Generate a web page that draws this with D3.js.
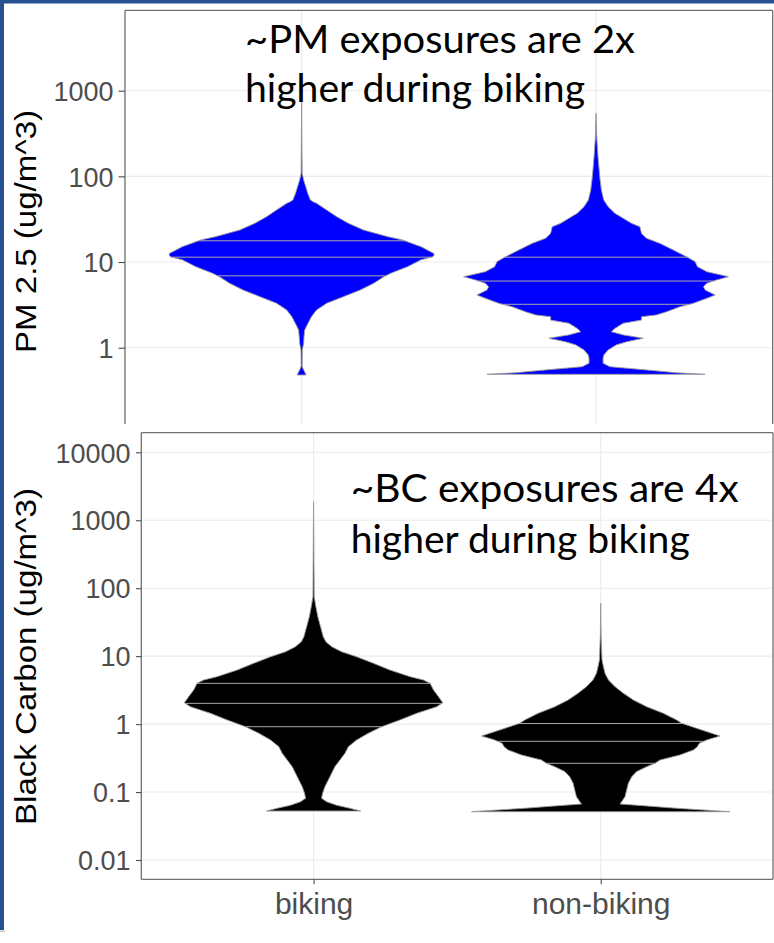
<!DOCTYPE html>
<html>
<head>
<meta charset="utf-8">
<script src="https://cdn.jsdelivr.net/npm/d3@7"></script>
<style>
  html, body { margin: 0; padding: 0; background: #ffffff; }
  svg { display: block; }
</style>
</head>
<body>
<script>
// ---- data ---------------------------------------------------------------
const categories = ["biking", "non-biking"];
const pmTicks = [1, 10, 100, 1000];
const bcTicks = [0.01, 0.1, 1, 10, 100, 1000, 10000];

// violin density profiles: [concentration (ug/m^3), relative half-width], high -> low
const pmBiking = [
  [780, 0], [108.6, 0.004], [90.7, 0.015], [75.7, 0.031], [63.4, 0.046], [53, 0.066],
  [50.6, 0.086], [48.5, 0.112], [40.5, 0.189], [33.8, 0.265], [28.3, 0.353], [23.6, 0.468],
  [19.8, 0.647], [18.1, 0.761], [15.1, 0.901], [12.6, 0.998], [12.1, 1], [11.5, 0.99],
  [10.6, 0.901], [8.82, 0.799], [7.38, 0.672], [6.74, 0.621], [5.65, 0.544], [4.72, 0.443],
  [3.94, 0.315], [3.30, 0.189], [2.75, 0.112], [2.30, 0.074], [1.93, 0.048], [1.61, 0.023],
  [1.34, 0.018], [1.12, 0.015], [1.03, 0.010], [0.94, 0.005], [0.61, 0.004], [0.58, 0.008],
  [0.52, 0.023], [0.48, 0.034]
];
const pmNonBiking = [
  [545, 0], [290, 0.005], [169.6, 0.015], [99, 0.028], [69.3, 0.040], [53, 0.058],
  [44.2, 0.091], [37, 0.142], [32.4, 0.205], [28.3, 0.267], [25.8, 0.331], [21.6, 0.343],
  [18.9, 0.381], [16.5, 0.483], [13.8, 0.583], [11.5, 0.684], [10.1, 0.748], [8.82, 0.765],
  [7.71, 0.836], [6.74, 1], [6.17, 0.909], [5.65, 0.836], [5.15, 0.811], [4.72, 0.823],
  [4.12, 0.899], [3.77, 0.836], [3.30, 0.735], [3.01, 0.634], [2.63, 0.533], [2.41, 0.455],
  [2.30, 0.343], [2.10, 0.343], [1.93, 0.205], [1.68, 0.142], [1.54, 0.116], [1.41, 0.205],
  [1.29, 0.356], [1.17, 0.230], [1.08, 0.154], [0.94, 0.091], [0.82, 0.058], [0.75, 0.053],
  [0.66, 0.053], [0.60, 0.104], [0.55, 0.381], [0.51, 0.608], [0.489, 0.823]
];
const bcBiking = [
  [1875, 0], [75, 0.005], [53.4, 0.018], [38.1, 0.033], [27.1, 0.054], [19.3, 0.075],
  [16.3, 0.095], [13.8, 0.140], [11.6, 0.217], [9.8, 0.333], [7.85, 0.463], [6.25, 0.591],
  [4.99, 0.747], [4.46, 0.850], [3.98, 0.902], [3.18, 0.928], [2.53, 0.967], [2.06, 1],
  [1.80, 0.953], [1.44, 0.798], [1.15, 0.669], [0.916, 0.527], [0.733, 0.424], [0.583, 0.333],
  [0.465, 0.269], [0.372, 0.243], [0.296, 0.204], [0.236, 0.165], [0.189, 0.140], [0.150, 0.114],
  [0.120, 0.088], [0.096, 0.070], [0.081, 0.062], [0.072, 0.101], [0.064, 0.178], [0.0577, 0.281],
  [0.0526, 0.364]
];
const bcNonBiking = [
  [60, 0], [20, 0.003], [8.78, 0.010], [7.0, 0.021], [5.6, 0.033], [4.46, 0.060],
  [3.55, 0.111], [2.84, 0.176], [2.26, 0.253], [1.80, 0.356], [1.44, 0.485], [1.15, 0.588],
  [1.03, 0.626], [0.867, 0.742], [0.668, 0.923], [0.583, 0.820], [0.521, 0.763], [0.465, 0.748],
  [0.416, 0.717], [0.351, 0.613], [0.296, 0.459], [0.265, 0.420], [0.236, 0.356], [0.200, 0.278],
  [0.168, 0.240], [0.135, 0.214], [0.107, 0.201], [0.0855, 0.188], [0.0721, 0.162], [0.0667, 0.149],
  [0.0624, 0.356], [0.0577, 0.588], [0.0545, 0.794], [0.0514, 1]
];

// 25th / 50th / 75th percentiles drawn across each violin
const pmBikingQuartiles = [6.9, 11.4, 17.7];
const pmNonBikingQuartiles = [3.21, 6.0, 11.4];
const bcBikingQuartiles = [0.916, 2.02, 3.98];
const bcNonBikingQuartiles = [0.265, 0.558, 1.02];

// ---- drawing ------------------------------------------------------------
const W = 774, H = 943;
const svg = d3.select("body").append("svg")
  .attr("width", W).attr("height", H)
  .attr("viewBox", `0 0 ${W} ${H}`);

svg.append("rect").attr("width", W).attr("height", H).attr("fill", "#ffffff");

// slide frame
const frame = "#26508f";
svg.append("rect").attr("x", 0).attr("y", 0).attr("width", W).attr("height", 3.5).attr("fill", frame);
svg.append("rect").attr("x", 0).attr("y", 0).attr("width", 4).attr("height", 930).attr("fill", frame);
svg.append("rect").attr("x", 0).attr("y", 930.5).attr("width", 5).attr("height", 1.5).attr("fill", "#c8c8c8");

const axisFont = "'Liberation Sans', Arial, Helvetica, sans-serif";

function halfWidthAt(profile, v) {
  const lv = Math.log10(v);
  for (let i = 0; i < profile.length - 1; i++) {
    const a = Math.log10(profile[i][0]), b = Math.log10(profile[i + 1][0]);
    if (lv <= a && lv >= b) {
      const t = (lv - a) / (b - a);
      return profile[i][1] + t * (profile[i + 1][1] - profile[i][1]);
    }
  }
  return 0;
}

function drawPanel(cfg) {
  const g = svg.append("g");
  const x = d3.scalePoint().domain(categories).range([cfg.x0, cfg.x1]).padding(0.6);
  const y = d3.scaleLog().domain(cfg.yDomain).range(cfg.yRange);
  const half = 0.45 * x.step();

  const clipId = "clip-" + cfg.id;
  g.append("clipPath").attr("id", clipId)
    .append("rect").attr("x", cfg.x0).attr("y", cfg.y0)
    .attr("width", cfg.x1 - cfg.x0).attr("height", cfg.y1 - cfg.y0);

  const plot = g.append("g").attr("clip-path", `url(#${clipId})`);

  // grid
  plot.selectAll("line.hgrid").data(cfg.ticks).join("line")
    .attr("x1", cfg.x0).attr("x2", cfg.x1)
    .attr("y1", d => y(d)).attr("y2", d => y(d))
    .attr("stroke", "#ebebeb").attr("stroke-width", 1.1);
  plot.selectAll("line.vgrid").data(categories).join("line")
    .attr("x1", d => x(d)).attr("x2", d => x(d))
    .attr("y1", cfg.y0).attr("y2", cfg.y1)
    .attr("stroke", "#ebebeb").attr("stroke-width", 1.1);

  // violins
  categories.forEach((c, i) => {
    const prof = cfg.profiles[i];
    const cx = x(c);
    const area = d3.area()
      .y(d => y(d[0]))
      .x0(d => cx - d[1] * half)
      .x1(d => cx + d[1] * half);
    plot.append("path").attr("d", area(prof))
      .attr("fill", cfg.fill)
      .attr("stroke", "#9a9a9a").attr("stroke-width", 0.9)
      .attr("stroke-linejoin", "round");
    cfg.quartiles[i].forEach(q => {
      const w = halfWidthAt(prof, q) * half;
      plot.append("line")
        .attr("x1", cx - w).attr("x2", cx + w)
        .attr("y1", y(q)).attr("y2", y(q))
        .attr("stroke", "#a8a8a8").attr("stroke-width", 1);
    });
  });

  // panel border
  const border = "#6e6e6e";
  const bw = 1.3;
  g.append("line").attr("x1", cfg.x0).attr("x2", cfg.x1).attr("y1", cfg.y0).attr("y2", cfg.y0)
    .attr("stroke", border).attr("stroke-width", bw);
  g.append("line").attr("x1", cfg.x0).attr("x2", cfg.x0).attr("y1", cfg.y0).attr("y2", cfg.y1)
    .attr("stroke", border).attr("stroke-width", bw);
  g.append("line").attr("x1", cfg.x1).attr("x2", cfg.x1).attr("y1", cfg.y0).attr("y2", cfg.y1)
    .attr("stroke", border).attr("stroke-width", bw);
  if (cfg.bottomBorder) {
    g.append("line").attr("x1", cfg.x0).attr("x2", cfg.x1).attr("y1", cfg.y1).attr("y2", cfg.y1)
      .attr("stroke", border).attr("stroke-width", bw);
  }

  // y axis
  const yAxis = d3.axisLeft(y).tickValues(cfg.ticks).tickFormat(d3.format("~g"))
    .tickSize(cfg.tickLen).tickPadding(cfg.tickPad);
  const ya = g.append("g").attr("transform", `translate(${cfg.x0},0)`).call(yAxis);
  ya.select(".domain").remove();
  ya.selectAll(".tick line").attr("stroke", "#4d4d4d").attr("stroke-width", 1.1);
  ya.selectAll(".tick text")
    .attr("font-family", axisFont).attr("font-size", cfg.labelSize)
    .attr("fill", "#4d4d4d").attr("dy", "0.36em");

  // x axis
  if (cfg.showX) {
    const xAxis = d3.axisBottom(x).tickSize(5).tickPadding(8);
    const xa = g.append("g").attr("transform", `translate(0,${cfg.y1})`).call(xAxis);
    xa.select(".domain").remove();
    xa.selectAll(".tick line").attr("stroke", "#4d4d4d").attr("stroke-width", 1.1);
    xa.selectAll(".tick text")
      .attr("font-family", axisFont).attr("font-size", 30)
      .attr("fill", "#4d4d4d").attr("dy", "0.71em");
  }

  // y title
  g.append("text")
    .attr("transform", `translate(36,${cfg.titleY}) rotate(-90)`)
    .attr("text-anchor", "middle")
    .attr("font-family", axisFont).attr("font-size", 30)
    .attr("textLength", cfg.titleLen).attr("lengthAdjust", "spacingAndGlyphs")
    .attr("fill", "#000000")
    .text(cfg.title);

  // note
  const noteFont = "Lato, 'Gill Sans', 'Open Sans', sans-serif";
  cfg.note.forEach((line, k) => {
    g.append("text")
      .attr("x", cfg.noteX).attr("y", cfg.noteY[k])
      .attr("font-family", noteFont).attr("font-size", 38)
      .attr("textLength", cfg.noteLen[k]).attr("lengthAdjust", "spacingAndGlyphs")
      .attr("fill", "#000000")
      .text(line);
  });
}

drawPanel({
  id: "pm", x0: 125, x1: 772.7, y0: 10.3, y1: 424, bottomBorder: false,
  yDomain: [1, 1000], yRange: [347.7, 90.7], ticks: pmTicks,
  tickLen: 6.5, tickPad: 5, labelSize: 27,
  fill: "#0000ff", profiles: [pmBiking, pmNonBiking],
  quartiles: [pmBikingQuartiles, pmNonBikingQuartiles],
  title: "PM 2.5 (ug/m^3)", titleY: 231.4, titleLen: 243, showX: false,
  note: ["~PM exposures are 2x", "higher during biking"],
  noteX: 245, noteY: [52.8, 102], noteLen: [390, 340]
});

drawPanel({
  id: "bc", x0: 141.3, x1: 773, y0: 432.7, y1: 879.3, bottomBorder: true,
  yDomain: [0.01, 10000], yRange: [860, 452.3], ticks: bcTicks,
  tickLen: 5.3, tickPad: 5.5, labelSize: 27,
  fill: "#000000", profiles: [bcBiking, bcNonBiking],
  quartiles: [bcBikingQuartiles, bcNonBikingQuartiles],
  title: "Black Carbon (ug/m^3)", titleY: 656.5, titleLen: 337, showX: true,
  note: ["~BC exposures are 4x", "higher during biking"],
  noteX: 350.7, noteY: [501.7, 552.8], noteLen: [388, 339]
});
</script>
</body>
</html>
